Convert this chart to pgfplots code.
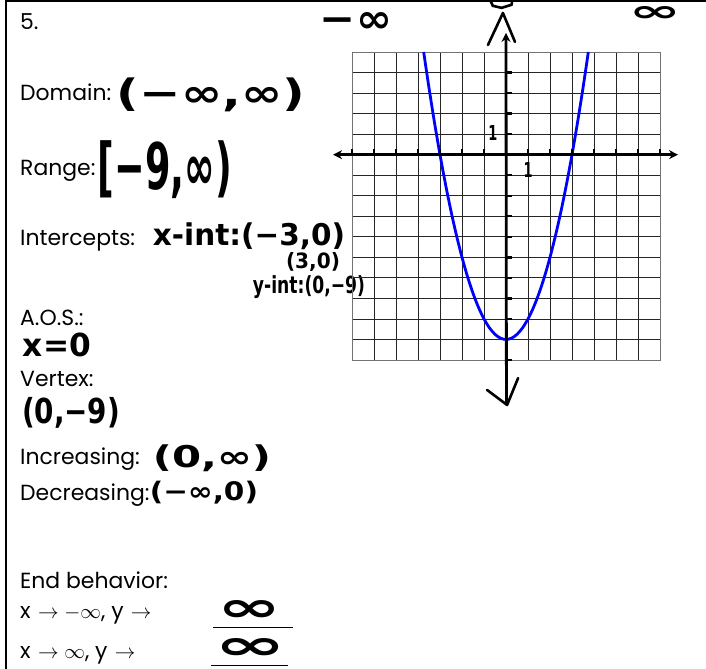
\documentclass[border=0pt]{standalone}
\usepackage{pgfplots}
\pgfplotsset{compat=1.18}
\usepackage{graphicx}
\usepackage{fontspec}
\setmainfont{Poppins}
\newfontfamily\hand{DejaVu Sans}[BoldFont={DejaVu Sans Bold}]
\usetikzlibrary{arrows.meta}
% marker-pen answer, stretched to a given width and total height
\newcommand{\hw}[3]{\resizebox*{#1bp}{#2bp}{\hand\bfseries #3}}
\begin{document}
\begin{tikzpicture}
\path[use as bounding box] (0,0) rectangle (706bp,-669bp);
% worksheet frame
\draw[line width=2bp] (6bp,-669bp) -- (6bp,-0.8bp) -- (706bp,-0.8bp);

\begin{scope}[x=1bp,y=-1bp]
\fontsize{22}{26}\selectfont
\node[anchor=base west,inner sep=0] at (20,29) {5.};
\node[anchor=base west,inner sep=0] at (20,100) {Domain:};
\node[anchor=base west,inner sep=0] at (20,175) {Range:};
\node[anchor=base west,inner sep=0] at (20,245) {Intercepts:};
\node[anchor=base west,inner sep=0] at (20,325) {A.O.S.:};
\node[anchor=base west,inner sep=0] at (20,386) {Vertex:};
\node[anchor=base west,inner sep=0] at (20,464) {Increasing:};
\node[anchor=base west,inner sep=0] at (20,500) {Decreasing:};
\node[anchor=base west,inner sep=0] at (20,588) {End behavior:};
\node[anchor=base west,inner sep=0] at (20,618) {x\,\,$\rightarrow -\infty$, y\,\,$\rightarrow$};
\node[anchor=base west,inner sep=0] at (20,658) {x\,\,$\rightarrow \infty$, y\,\,$\rightarrow$};
\draw[line width=0.8bp] (213,627) -- (293,627);
\draw[line width=0.8bp] (211,665) -- (288,665);

% handwritten answers
\node[inner sep=0] at (211,95) {\hw{188}{34}{(−∞,∞)}};
\node[inner sep=0] at (165,170) {\hw{134}{58}{[−9,∞)}};
\node[inner sep=0] at (249,236) {\hw{192}{27}{x-int:(−3,0)}};
\node[inner sep=0] at (313,262) {\hw{54}{19}{(3,0)}};
\node[inner sep=0] at (309,287) {\hw{112}{23}{y-int:(0,−9)}};
\node[inner sep=0] at (57,345) {\hw{68}{24}{x=0}};
\node[inner sep=0] at (71,413) {\hw{98}{31}{(0,−9)}};
\node[inner sep=0] at (212,458) {\hw{118}{27}{(0,∞)}};
\node[inner sep=0] at (204,493) {\hw{108}{23}{(−∞,0)}};
\node[inner sep=0] at (250,611) {\hw{64}{21}{∞}};
\node[inner sep=0] at (251,649) {\hw{72}{21}{∞}};
\node[inner sep=0] at (356,22) {\hw{72}{20}{−∞}};
\node[inner sep=0] at (655,14) {\hw{52}{15}{∞}};
\end{scope}

\begin{axis}[
  at={(352bp,-360bp)}, anchor=south west,
  scale only axis, width=308bp, height=308bp,
  xmin=-7, xmax=7, ymin=-10, ymax=5,
  xtick={-7,...,7}, ytick={-10,...,5},
  xticklabels={}, yticklabels={},
  major tick length=0pt,
  grid=major,
  grid style={black!85, line width=0.8bp},
  axis line style={black!55, line width=0.8bp},
  clip=false,
]
% f(x) = x^2 - 9
\addplot[blue, line width=2.8bp, smooth] coordinates {
  (-3.742,5) (-3.5,3.25) (-3.25,1.5625) (-3,0) (-2.75,-1.4375) (-2.5,-2.75)
  (-2.25,-3.9375) (-2,-5) (-1.75,-5.9375) (-1.5,-6.75) (-1.25,-7.4375)
  (-1,-8) (-0.75,-8.4375) (-0.5,-8.75) (-0.25,-8.9375) (0,-9)
  (0.25,-8.9375) (0.5,-8.75) (0.75,-8.4375) (1,-8) (1.25,-7.4375)
  (1.5,-6.75) (1.75,-5.9375) (2,-5) (2.25,-3.9375) (2.5,-2.75)
  (2.75,-1.4375) (3,0) (3.25,1.5625) (3.5,3.25) (3.742,5)
};
% x-axis
\addplot[black, line width=2.6bp, {Stealth[length=9bp,width=9bp]}-{Stealth[length=9bp,width=9bp]}] coordinates {(-7.86,0) (7.82,0)};
\addplot[black, only marks, mark=|, mark size=3.2bp, mark options={line width=2.2bp}] coordinates {
  (-7,0.1) (-6,0.1) (-5,0.1) (-4,0.1) (-3,0.1) (-2,0.1) (-1,0.1)
  (1,0.1) (2,0.1) (3,0.1) (4,0.1) (5,0.1) (6,0.1) (7,0.1)};
% y-axis, drawn by hand
\addplot[black, line width=2.8bp, -{Stealth[length=9bp,width=9bp]}] coordinates {(0.02,-12.15) (0,5.93)};
\addplot[black, only marks, mark=-, mark size=3bp, mark options={line width=2.4bp}] coordinates {
  (0.12,-10) (0.12,-8) (0.12,-7) (0.12,-6) (0.12,-5) (0.12,-4) (0.12,-3) (0.12,-2) (0.12,-1)
  (0.12,1) (0.12,2) (0.12,3) (0.12,4)};
\addplot[black, line width=2.6bp, line cap=round, line join=round] coordinates {(-0.82,5.34) (-0.14,6.9) (0.41,5.49)};
\addplot[black, line width=2.6bp, line cap=round, line join=round] coordinates {(-0.86,-11.46) (0.05,-12.19) (0.55,-10.88)};
\addplot[black, line width=2.6bp] coordinates {(-0.75,7.6) (-0.6,7.25) (-0.2,7.15) (0.25,7.3) (0.3,7.6)};
% unit labels
\node[inner sep=0] at (axis cs:-0.6,1.05) {\hw{9}{15}{1}};
\node[inner sep=0] at (axis cs:1,-0.75) {\hw{9}{15}{1}};
\end{axis}
\end{tikzpicture}
\end{document}
